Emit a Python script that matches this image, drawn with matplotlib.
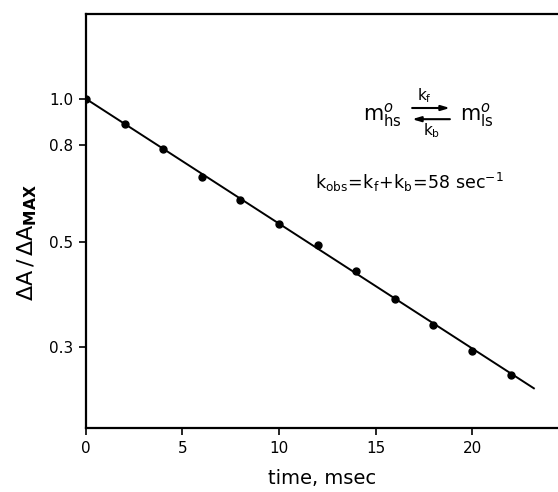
import numpy as np
import matplotlib
matplotlib.use('Agg')
import matplotlib.pyplot as plt
from matplotlib.ticker import FixedLocator, NullLocator

# data (time in msec, dA/dAmax)
t = [0, 2, 4, 6, 8, 10, 12, 14, 16, 18, 20, 22]
ratio = [1.0, 0.886, 0.784, 0.683, 0.612, 0.545, 0.492, 0.433, 0.379, 0.333, 0.294, 0.262]
fit_t = [0, 23.2]
fit_ratio = [1.0, 0.245]

xticks = [0, 5, 10, 15, 20]
yticks = [1.0, 0.8, 0.5, 0.3]
ytick_labels = ['1.0', '0.8', '0.5', '0.3']

fig = plt.figure(figsize=(5.58, 4.92), dpi=100)
ax = fig.add_axes([0.154, 0.130, 0.846, 0.8415])

ax.plot(fit_t, fit_ratio, color='black', lw=1.4)
ax.plot(t, ratio, 'o', color='black', ms=5)

ax.set_yscale('log')
ax.set_xlim(0, 24.45)
ax.set_ylim(0.202, 1.51)

ax.yaxis.set_major_locator(FixedLocator(yticks))
ax.yaxis.set_minor_locator(NullLocator())
ax.set_yticklabels(ytick_labels)
ax.set_xticks(xticks)
ax.set_xticklabels([str(v) for v in xticks])

for s in ['left', 'top', 'bottom']:
    ax.spines[s].set_linewidth(1.6)
ax.spines['right'].set_visible(False)
ax.tick_params(direction='out', length=5, width=1.2, labelsize=11, pad=4)

ax.set_xlabel('time, msec', fontsize=14, labelpad=10)
ax.set_ylabel(r'$\Delta\mathrm{A}\,/\,\Delta\mathrm{A}_{\mathbf{MAX}}$', fontsize=16)
ax.yaxis.set_label_coords(-0.10, 0.447)

# reaction scheme annotation
ax.text(0.628, 0.757, r'$\mathrm{m}^{o}_{\mathrm{hs}}$', transform=ax.transAxes,
        fontsize=15, ha='center', va='center')
ax.text(0.827, 0.757, r'$\mathrm{m}^{o}_{\mathrm{ls}}$', transform=ax.transAxes,
        fontsize=15, ha='center', va='center')
ax.annotate('', xy=(0.771, 0.773), xytext=(0.691, 0.773), xycoords='axes fraction',
            arrowprops=dict(arrowstyle='-|>,head_length=0.5,head_width=0.15',
                            color='black', lw=1.5, shrinkA=0, shrinkB=0))
ax.annotate('', xy=(0.691, 0.746), xytext=(0.771, 0.746), xycoords='axes fraction',
            arrowprops=dict(arrowstyle='-|>,head_length=0.5,head_width=0.15',
                            color='black', lw=1.5, shrinkA=0, shrinkB=0))
ax.text(0.718, 0.803, r'$\mathrm{k_f}$', transform=ax.transAxes,
        fontsize=11, ha='center', va='center')
ax.text(0.733, 0.718, r'$\mathrm{k_b}$', transform=ax.transAxes,
        fontsize=11, ha='center', va='center')
ax.text(0.686, 0.592, r'$\mathrm{k_{obs}\!=\!k_f\!+\!k_b\!=\!58\ sec^{-1}}$',
        transform=ax.transAxes, fontsize=12.5, ha='center', va='center')

fig.savefig('out.png', dpi=100)
